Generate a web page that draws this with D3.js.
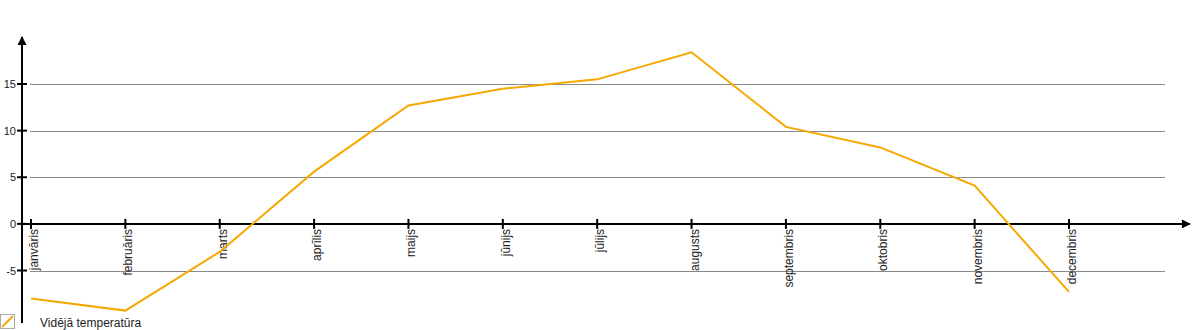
<!DOCTYPE html>
<html lang="lv">
    <head>
        <title>Vidējā temperatūra</title>
        <meta charset="UTF-8">
    </head>
    <style>
        body { margin: 0; background: #fff; }
        text { font-family: "Liberation Sans", Arial, sans-serif; fill: #222; }
    </style>
    <script src="https://d3js.org/d3.v7.min.js"></script>
    <body>
        <script>
            const width = 1200
            const height = 330

            // dati
            const months = ["janvāris", "februāris", "marts", "aprīlis", "maijs", "jūnijs",
                            "jūlijs", "augusts", "septembris", "oktobris", "novembris", "decembris"]
            const temps = [-8.0, -9.3, -3.0, 5.6, 12.7, 14.5, 15.5, 18.4, 10.4, 8.2, 4.1, -7.3]
            const yTicks = [-5, 0, 5, 10, 15]
            const seriesName = "Vidējā temperatūra"

            const color = "#f5a800"

            var svg = d3.select("body")
                .append("svg")
                .attr("width", width)
                .attr("height", height)

            var x = d3.scalePoint()
                .domain(months)
                .range([31, 1069])

            var y = d3.scaleLinear()
                .domain([-5, 15])
                .range([270.5, 84])

            // bultas
            var defs = svg.append("defs")
            defs.append("marker")
                .attr("id", "arrow")
                .attr("viewBox", "0 0 10 10")
                .attr("refX", 9).attr("refY", 5)
                .attr("markerWidth", 15).attr("markerHeight", 9)
                .attr("markerUnits", "userSpaceOnUse")
                .attr("orient", "auto")
                .append("path")
                .attr("d", "M0,0 L10,5 L0,10 z")
                .attr("fill", "#000")

            // režģis
            svg.append("g")
                .selectAll("line")
                .data(yTicks.filter(function(d){ return d !== 0 }))
                .enter()
                .append("line")
                .attr("x1", 30).attr("x2", 1165)
                .attr("y1", function(d){ return Math.round(y(d)) + 0.5 })
                .attr("y2", function(d){ return Math.round(y(d)) + 0.5 })
                .attr("stroke", "#8a8a8a")
                .attr("stroke-width", 1)

            // y ass
            var axisX = 22
            svg.append("line")
                .attr("x1", axisX).attr("x2", axisX)
                .attr("y1", 323).attr("y2", 37)
                .attr("stroke", "#000").attr("stroke-width", 2)
                .attr("marker-end", "url(#arrow)")

            var yg = svg.append("g")
            yg.selectAll("line")
                .data(yTicks)
                .enter()
                .append("line")
                .attr("x1", axisX - 5).attr("x2", axisX + 5)
                .attr("y1", function(d){ return y(d) })
                .attr("y2", function(d){ return y(d) })
                .attr("stroke", "#000").attr("stroke-width", 2)
            yg.selectAll("text")
                .data(yTicks)
                .enter()
                .append("text")
                .attr("x", 16)
                .attr("y", function(d){ return y(d) + 4 })
                .attr("text-anchor", "end")
                .style("font-size", "11px")
                .text(function(d){ return d })

            // x ass
            svg.append("line")
                .attr("x1", axisX - 1).attr("x2", 1190)
                .attr("y1", y(0)).attr("y2", y(0))
                .attr("stroke", "#000").attr("stroke-width", 2)
                .attr("marker-end", "url(#arrow)")

            var xg = svg.append("g")
            xg.selectAll("line")
                .data(months)
                .enter()
                .append("line")
                .attr("x1", function(d){ return x(d) })
                .attr("x2", function(d){ return x(d) })
                .attr("y1", y(0) - 5).attr("y2", y(0) + 5)
                .attr("stroke", "#000").attr("stroke-width", 2)
            xg.selectAll("text")
                .data(months)
                .enter()
                .append("text")
                .attr("transform", function(d){
                    return `translate(${x(d) + 7}, ${y(0) + 5}) rotate(-90)`
                })
                .attr("text-anchor", "end")
                .style("font-size", "12px")
                .text(function(d){ return d })

            // līnija
            var line = d3.line()
                .x(function(d, i){ return x(months[i]) })
                .y(function(d){ return y(d) })

            svg.append("path")
                .datum(temps)
                .attr("d", line)
                .attr("fill", "none")
                .attr("stroke", color)
                .attr("stroke-width", 2)

            // leģenda
            var legend = svg.append("g")
            legend.append("rect")
                .attr("x", 0.5).attr("y", 314.5)
                .attr("width", 14).attr("height", 14)
                .attr("fill", "#fff")
                .attr("stroke", "#aaa")
            legend.append("line")
                .attr("x1", 2).attr("y1", 327)
                .attr("x2", 13).attr("y2", 316)
                .attr("stroke", color).attr("stroke-width", 2)
            legend.append("text")
                .attr("x", 40).attr("y", 327)
                .style("font-size", "12px")
                .text(seriesName)
        </script>
    </body>
</html>
